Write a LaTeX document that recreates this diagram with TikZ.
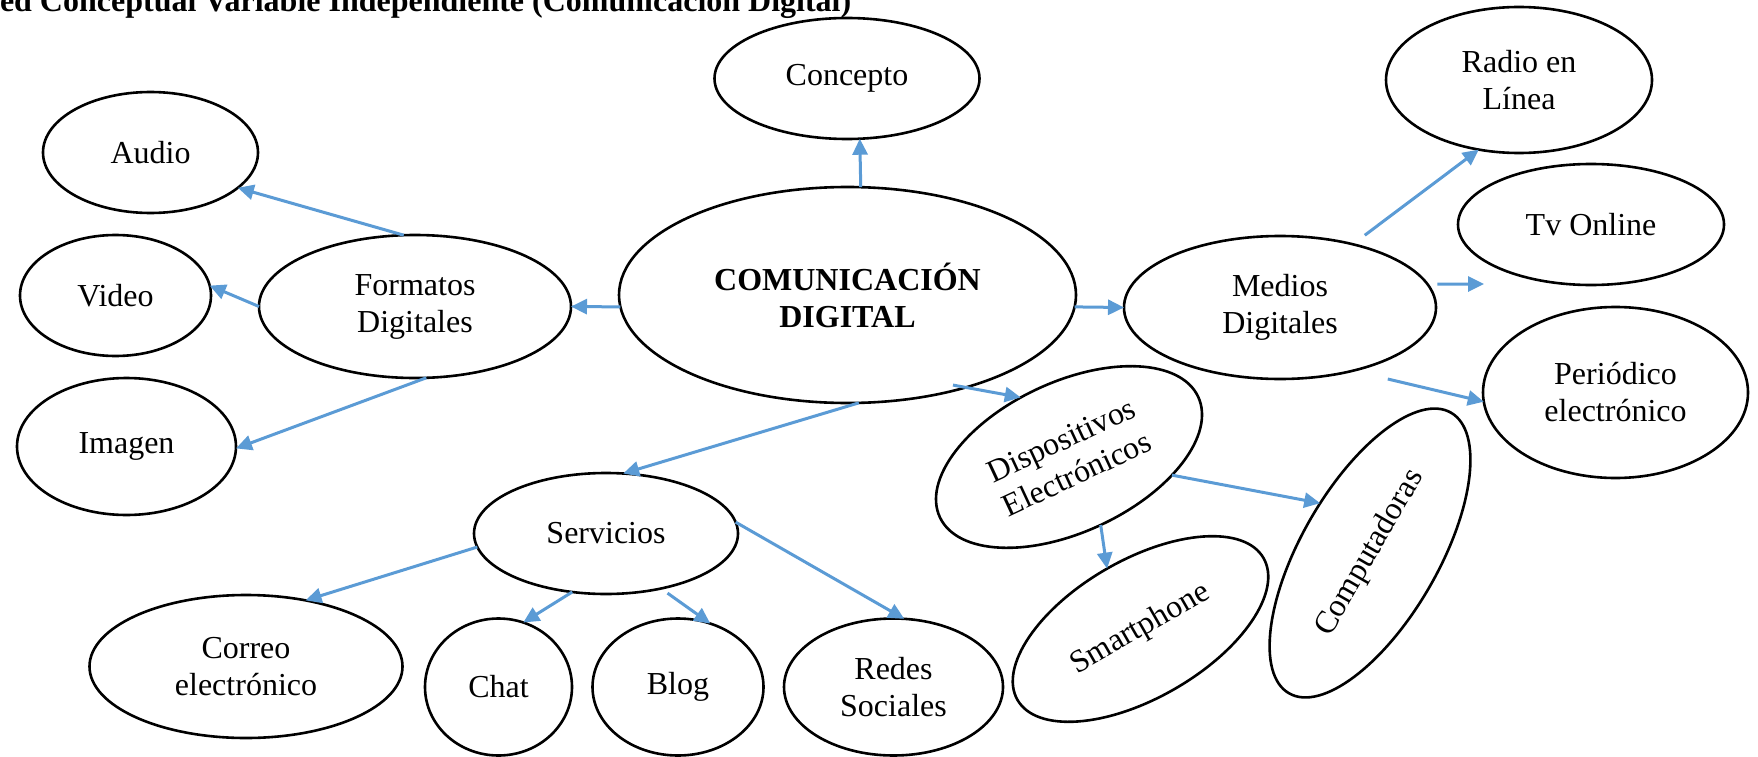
\documentclass[tikz,border=0pt]{standalone}
\usepackage{fontspec}
\setmainfont{Liberation Serif}
\usetikzlibrary{shapes.geometric,arrows.meta}
\definecolor{linkblue}{RGB}{91,155,213}

\begin{document}
\begin{tikzpicture}
  [x=1pt,y=-1pt,
   every node/.style={ellipse,draw,line width=2.6pt,inner sep=0pt,outer sep=0pt,
     align=center,font=\fontsize{32}{37}\selectfont},
   wh/.style 2 args={minimum width=#1,minimum height=#2},
   link/.style={draw=linkblue,line width=3pt,-{Triangle[length=16pt,width=15pt]}}]
  \useasboundingbox (0,0) rectangle (1758,757);
  \clip (0,0) rectangle (1758,757);

  \node[draw=none,rectangle,anchor=base west,font=\fontsize{32}{37}\selectfont\bfseries]
    (titulo) at (0,12) {ed Conceptual Variable Independiente (Comunicación Digital)};

  \node[wh={457pt}{216pt},font=\fontsize{32}{37}\selectfont\bfseries] (comunicacion) at (847.5,295) {COMUNICACIÓN\\DIGITAL};
  \node[wh={265pt}{121pt}] (concepto) at (847,78.5) {Concepto};
  \node[wh={312pt}{143pt}] (formatos) at (415,306.5) {Formatos\\Digitales};
  \node[wh={215pt}{121pt}] (audio) at (150.5,152.5) {Audio};
  \node[wh={191pt}{121pt}] (video) at (115.5,295.5) {Video};
  \node[wh={219pt}{137pt}] (imagen) at (126.5,446.5) {Imagen};
  \node[wh={312pt}{143pt}] (medios) at (1280,307.5) {Medios\\Digitales};
  \node[wh={266pt}{146pt}] (radio) at (1519,80) {Radio en\\Línea};
  \node[wh={266pt}{121pt}] (tv) at (1591,224.5) {Tv Online};
  \node[wh={265pt}{171pt}] (periodico) at (1615.5,392.5) {Periódico\\electrónico};
  \node[wh={264pt}{121pt}] (servicios) at (606,533.5) {Servicios};
  \node[wh={313pt}{143pt}] (correo) at (246,666.5) {Correo\\electrónico};
  \node[wh={147pt}{137pt}] (chat) at (498.5,687) {Chat};
  \node[wh={171pt}{137pt}] (blog) at (678,687) {Blog};
  \node[wh={219pt}{137pt}] (redes) at (893.5,687) {Redes\\Sociales};
  \node[wh={285pt}{150pt},rotate=25] (dispositivos) at (1069,457) {Dispositivos\\Electrónicos};
  \node[wh={284pt}{138pt},rotate=30] (smartphone) at (1140.5,629) {Smartphone};
  \node[wh={324pt}{137pt},rotate=60] (computadoras) at (1370,553) {Computadoras};
  \coordinate (tvfree) at (1484,284);

  \draw[link] (comunicacion.83) -- (concepto.282);
  \draw[link] (comunicacion.183) -- (formatos.east);
  \draw[link] (formatos.99) -- (audio.-22);
  \draw[link] (formatos.west) -- (video.6);
  \draw[link] (formatos.-81) -- (imagen.-1);
  \draw[link] (comunicacion.-3) -- (medios.west);
  \draw[link,shorten <=15pt] (medios.41) -- (radio.240);
  \draw[link,shorten <=10pt] (medios.9) -- (tvfree);
  \draw[link,shorten <=36pt] (medios.-41) -- (periodico.184);
  \draw[link,shorten <=-13pt] (comunicacion.-38) -- (dispositivos.104);
  \draw[link] (dispositivos.-35) -- (computadoras.75);
  \draw[link] (dispositivos.south) -- (smartphone.89);
  \draw[link] (comunicacion.-84) -- (servicios.74);
  \draw[link] (servicios.186) -- (correo.48);
  \draw[link] (servicios.-120) -- (chat.69);
  \draw[link,shorten <=8pt] (servicios.-45) -- (blog.63);
  \draw[link] (servicios.5) -- (redes.81);
\end{tikzpicture}
\end{document}
